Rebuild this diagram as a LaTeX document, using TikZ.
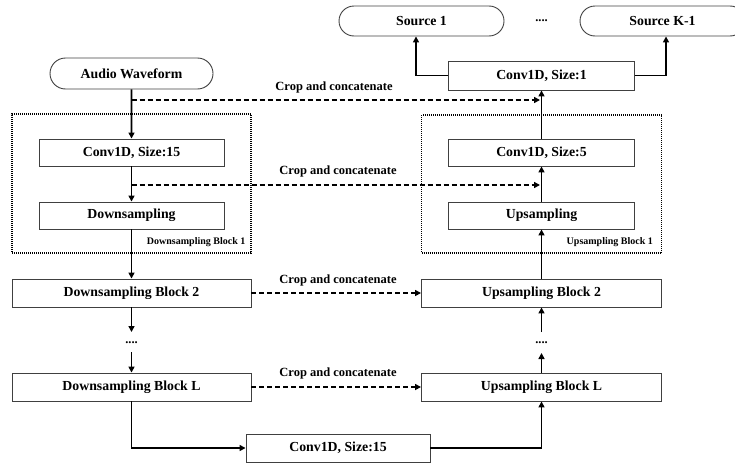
\documentclass[tikz,border=0pt]{standalone}
\usepackage{fontspec}
\setmainfont{Liberation Serif}
\usetikzlibrary{arrows.meta,shapes.misc}

\begin{document}
\begin{tikzpicture}[x=1pt,y=-1pt,
  box/.style={draw=black!75,line width=0.9pt,minimum height=27pt,inner sep=0pt,
    font=\bfseries\fontsize{13.8}{16}\selectfont},
  pill/.style={box,rounded rectangle,minimum height=30pt},
  lbl/.style={font=\bfseries\fontsize{12.5}{14}\selectfont,inner sep=0pt},
  small/.style={font=\bfseries\fontsize{10}{12}\selectfont,inner sep=0pt,anchor=east},
  flow/.style={line width=1.7pt,-{Triangle[length=6pt,width=6pt]}},
  skip/.style={line width=1.5pt,dash pattern=on 5pt off 3pt,-{Triangle[length=6pt,width=6pt]}},
  group/.style={draw,line width=1.1pt,dash pattern=on 1pt off 1pt,inner sep=0pt}
]
\useasboundingbox (0,0) rectangle (735,463);

% ---- encoder column ----
\node[pill,minimum width=163pt,minimum height=31pt] (audio) at (131.5,73.5) {Audio Waveform};
\node[group,minimum width=239pt,minimum height=139pt] (grpD) at (131.5,183.5) {};
\node[small] (grpDlbl) at ([xshift=-6pt,yshift=11pt]grpD.south east) {Downsampling Block 1};
\node[box,minimum width=185pt] (c15) at (131.5,152.5) {Conv1D, Size:15};
\node[box,minimum width=185pt] (down) at (131.5,215.5) {Downsampling};
\node[box,minimum width=239pt,minimum height=28pt] (db2) at (131.5,293) {Downsampling Block 2};
\node[lbl] (ldots) at (131.5,343) {....};
\node[box,minimum width=239pt,minimum height=28pt] (dbL) at (131.5,387) {Downsampling Block L};

% ---- bottleneck ----
\node[box,minimum width=184pt,minimum height=28pt] (bott) at (338,448) {Conv1D, Size:15};

% ---- decoder column ----
\node[pill,minimum width=165pt] (src1) at (421.5,21) {Source 1};
\node[lbl] (sdots) at (541.5,21) {....};
\node[pill,minimum width=165pt] (srcK) at (662.5,21) {Source K-1};
\node[box,minimum width=186pt,minimum height=29pt] (c1) at (541.5,75.5) {Conv1D, Size:1};
\node[group,minimum width=240pt,minimum height=138pt] (grpU) at (541.5,184) {};
\node[small] (grpUlbl) at ([xshift=-9pt,yshift=11pt]grpU.south east) {Upsampling Block 1};
\node[box,minimum width=186pt] (c5) at (541.5,152.5) {Conv1D, Size:5};
\node[box,minimum width=186pt] (up) at (541.5,215.5) {Upsampling};
\node[box,minimum width=240pt,minimum height=28pt] (ub2) at (541.5,293) {Upsampling Block 2};
\node[lbl] (rdots) at (541.5,343) {....};
\node[box,minimum width=240pt,minimum height=28pt] (ubL) at (541.5,387) {Upsampling Block L};

% ---- arrow ends around the ellipsis marks ----
\coordinate (la) at (131.5,332);
\coordinate (lb) at (131.5,352);
\coordinate (ra) at (541.5,353);
\coordinate (rb) at (541.5,332);

% ---- skip connections ----
\coordinate (k1s) at (131.5,100);
\coordinate (k1t) at (540,100);
\coordinate (k2s) at (131.5,185);
\coordinate (k2t) at (540,185);
\draw[skip] (k1s) -- (k1t);
\draw[skip] (k2s) -- (k2t);
\draw[skip] (db2.east) -- (ub2.west);
\draw[skip] (dbL.east) -- (ubL.west);
\node[lbl] (cc1) at (334,87) {Crop and concatenate};
\node[lbl] (cc2) at (338,171) {Crop and concatenate};
\node[lbl] (cc3) at (338,280) {Crop and concatenate};
\node[lbl] (cc4) at (338,373) {Crop and concatenate};

% ---- main data path ----
\draw[flow] (audio) -- (c15);
\draw[flow] (c15) -- (down);
\draw[flow] (down) -- (db2);
\draw[flow] (db2) -- (la);
\draw[flow] (lb) -- (dbL);
\draw[flow] (dbL.south) |- (bott.west);
\draw[flow] (bott.east) -| (ubL.south);
\draw[flow] (ubL) -- (ra);
\draw[flow] (rb) -- (ub2);
\draw[flow] (ub2) -- (up);
\draw[flow] (up) -- (c5);
\draw[flow] (c5) -- (c1);
\draw[flow] (c1.west) -| ([xshift=-5.5pt]src1.south);
\draw[flow] (c1.east) -| ([xshift=3.5pt]srcK.south);
\end{tikzpicture}
\end{document}
